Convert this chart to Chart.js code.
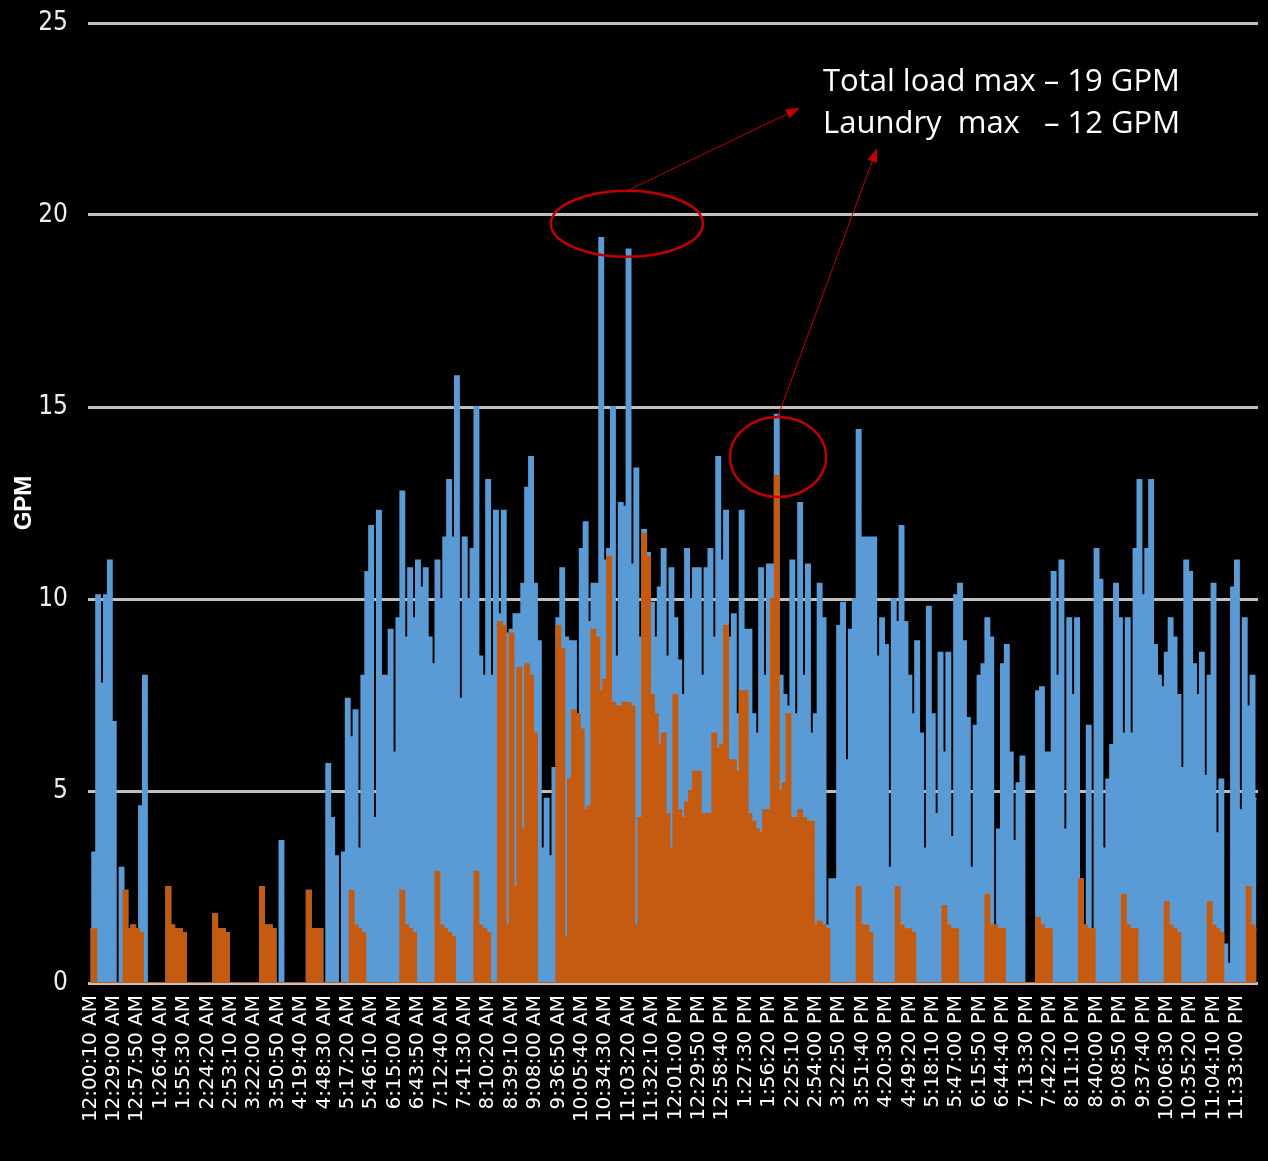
<!DOCTYPE html>
<html>
<head>
<meta charset="utf-8">
<script src="https://cdn.jsdelivr.net/npm/chart.js@4.4.1/dist/chart.umd.min.js"></script>
<style>
  html, body { margin: 0; padding: 0; background: #000; }
  #wrap { position: relative; width: 1268px; height: 1161px; }
</style>
</head>
<body>
<div id="wrap"><canvas id="gpmChart"></canvas></div>
<script>
// tick labels on the time axis (one every 28:50)
const tickLabels = [
    '12:00:10 AM', '12:29:00 AM', '12:57:50 AM', '1:26:40 AM', '1:55:30 AM',
    '2:24:20 AM', '2:53:10 AM', '3:22:00 AM', '3:50:50 AM', '4:19:40 AM',
    '4:48:30 AM', '5:17:20 AM', '5:46:10 AM', '6:15:00 AM', '6:43:50 AM',
    '7:12:40 AM', '7:41:30 AM', '8:10:20 AM', '8:39:10 AM', '9:08:00 AM',
    '9:36:50 AM', '10:05:40 AM', '10:34:30 AM', '11:03:20 AM', '11:32:10 AM',
    '12:01:00 PM', '12:29:50 PM', '12:58:40 PM', '1:27:30 PM', '1:56:20 PM',
    '2:25:10 PM', '2:54:00 PM', '3:22:50 PM', '3:51:40 PM', '4:20:30 PM',
    '4:49:20 PM', '5:18:10 PM', '5:47:00 PM', '6:15:50 PM', '6:44:40 PM',
    '7:13:30 PM', '7:42:20 PM', '8:11:10 PM', '8:40:00 PM', '9:08:50 PM',
    '9:37:40 PM', '10:06:30 PM', '10:35:20 PM', '11:04:10 PM', '11:33:00 PM'
];

// readings per tick interval
const samplesPerTick = 6;

// total load, GPM (6 readings per row = one tick interval)
const totalLoad = [
    1.4, 3.4, 10.1, 7.8, 10.1, 11.0,
    6.8, 0, 3.0, 2.4, 1.4, 1.5,
    1.4, 4.6, 8.0, 0, 0, 0,
    0, 0, 2.5, 1.5, 1.4, 1.4,
    1.3, 0, 0, 0, 0, 0,
    0, 0, 1.8, 1.4, 1.4, 1.3,
    0, 0, 0, 0, 0, 0,
    0, 0, 2.5, 1.5, 1.5, 1.4,
    0, 3.7, 0, 0, 0, 0,
    0, 0, 2.4, 1.4, 1.4, 1.4,
    0, 5.7, 4.3, 3.3, 0, 3.4,
    7.4, 6.4, 7.1, 3.5, 8.0, 10.7,
    11.9, 4.3, 12.3, 8.0, 8.0, 9.2,
    6.0, 9.5, 12.8, 9.0, 10.8, 9.5,
    11.0, 10.3, 10.8, 9.0, 8.3, 11.0,
    10.0, 11.6, 13.1, 11.6, 15.8, 7.4,
    11.6, 10.0, 11.3, 15.0, 8.5, 8.0,
    13.1, 8.0, 12.3, 9.6, 12.3, 9.1,
    9.2, 9.6, 9.6, 10.4, 12.9, 13.7,
    10.4, 8.9, 3.5, 4.8, 3.3, 5.6,
    9.5, 10.8, 9.0, 8.9, 8.9, 7.0,
    11.3, 12.0, 9.4, 10.4, 10.4, 19.4,
    11.0, 11.3, 15.0, 8.5, 12.5, 12.4,
    19.1, 10.9, 13.4, 9.0, 11.8, 11.2,
    9.9, 9.0, 10.3, 11.3, 8.5, 10.8,
    9.5, 8.4, 7.5, 11.3, 10.0, 10.8,
    10.8, 8.0, 10.8, 11.3, 9.0, 13.7,
    11.0, 12.3, 9.0, 9.6, 7.0, 12.3,
    9.2, 9.2, 7.0, 6.5, 10.8, 8.0,
    10.9, 10.9, 14.8, 8.0, 7.5, 7.2,
    11.0, 7.0, 12.5, 8.0, 10.9, 6.5,
    7.0, 10.4, 9.5, 1.5, 2.7, 2.7,
    9.3, 9.9, 5.8, 9.2, 10.0, 14.4,
    11.6, 11.6, 11.6, 11.6, 8.5, 9.5,
    8.8, 3.0, 10.0, 9.4, 11.9, 9.4,
    8.0, 7.0, 8.9, 6.5, 3.5, 9.8,
    7.0, 4.4, 8.6, 6.0, 8.6, 3.8,
    10.1, 10.4, 8.9, 6.9, 3.0, 6.7,
    8.0, 8.3, 9.5, 9.0, 1.5, 4.0,
    8.3, 8.8, 6.0, 3.7, 5.2, 5.9,
    0, 0, 0, 7.6, 7.7, 6.0,
    6.0, 10.7, 8.0, 11.0, 4.0, 9.5,
    7.5, 9.5, 2.7, 1.5, 6.7, 1.4,
    11.3, 10.5, 3.5, 5.3, 6.2, 10.4,
    9.5, 6.5, 9.5, 6.5, 11.3, 13.1,
    10.1, 11.3, 13.1, 8.8, 8.0, 7.7,
    8.6, 9.5, 9.0, 7.5, 5.6, 11.0,
    10.7, 8.3, 7.5, 8.6, 5.4, 8.0,
    10.4, 3.9, 5.3, 1.0, 0.5, 10.3,
    11.0, 4.5, 9.5, 7.2, 8.0, 4.8
];

// laundry load, GPM
const laundryLoad = [
    1.4, 1.4, 0, 0, 0, 0,
    0, 0, 0, 2.4, 1.4, 1.5,
    1.4, 1.3, 0, 0, 0, 0,
    0, 0, 2.5, 1.5, 1.4, 1.4,
    1.3, 0, 0, 0, 0, 0,
    0, 0, 1.8, 1.4, 1.4, 1.3,
    0, 0, 0, 0, 0, 0,
    0, 0, 2.5, 1.5, 1.5, 1.4,
    0, 0, 0, 0, 0, 0,
    0, 0, 2.4, 1.4, 1.4, 1.4,
    0, 0, 0, 0, 0, 0,
    0, 2.4, 1.5, 1.4, 1.3, 0,
    0, 0, 0, 0, 0, 0,
    0, 0, 2.4, 1.5, 1.4, 1.3,
    0, 0, 0, 0, 0, 2.9,
    1.5, 1.4, 1.3, 1.2, 0, 0,
    0, 0, 0, 2.9, 1.5, 1.4,
    1.3, 0, 0, 9.4, 9.3, 1.5,
    9.1, 2.5, 8.2, 4.0, 8.3, 8.0,
    6.5, 0, 0, 0, 0, 0,
    9.3, 8.7, 1.2, 5.3, 7.1, 7.0,
    6.6, 4.5, 4.6, 9.2, 9.0, 7.6,
    7.9, 11.1, 7.3, 7.2, 7.2, 7.3,
    7.3, 7.2, 1.5, 4.3, 11.7, 11.1,
    7.5, 7.0, 6.2, 6.5, 4.4, 3.5,
    7.5, 4.5, 4.3, 4.7, 5.0, 5.5,
    5.5, 4.4, 4.4, 4.4, 6.5, 6.1,
    6.2, 9.3, 5.8, 5.8, 5.5, 7.6,
    7.6, 4.4, 4.2, 4.0, 3.9, 4.5,
    4.5, 10.0, 13.2, 5.0, 5.2, 7.0,
    4.3, 4.3, 4.5, 4.3, 4.2, 4.2,
    1.5, 1.6, 1.5, 1.4, 0, 0,
    0, 0, 0, 0, 0, 2.5,
    1.5, 1.5, 1.3, 0, 0, 0,
    0, 0, 0, 2.5, 1.5, 1.4,
    1.4, 1.3, 0, 0, 0, 0,
    0, 0, 0, 2.0, 1.5, 1.4,
    1.4, 0, 0, 0, 0, 0,
    0, 0, 2.3, 1.5, 1.5, 1.4,
    1.4, 0, 0, 0, 0, 0,
    0, 0, 0, 1.7, 1.5, 1.4,
    1.4, 0, 0, 0, 0, 0,
    0, 0, 2.7, 1.5, 1.4, 1.4,
    0, 0, 0, 0, 0, 0,
    0, 2.3, 1.5, 1.4, 1.4, 0,
    0, 0, 0, 0, 0, 0,
    2.1, 1.5, 1.4, 1.3, 0, 0,
    0, 0, 0, 0, 0, 2.1,
    1.5, 1.4, 1.3, 0, 0, 0,
    0, 0, 0, 2.5, 1.5, 1.4
];

const calloutText = ['Total load max \u2013 19 GPM', 'Laundry  max   \u2013 12 GPM'];

function toPoints(values) {
    return values.map((v, k) => ({ x: k / samplesPerTick, y: v }));
}

// red ellipses, arrows and the note, placed in axis units
const calloutPlugin = {
    id: 'callouts',
    afterDatasetsDraw(chart) {
        const { ctx } = chart;
        const x = chart.scales.x, y = chart.scales.y;
        const px = v => x.getPixelForValue(v);
        const py = v => y.getPixelForValue(v);

        ctx.save();
        ctx.strokeStyle = '#c00000';
        ctx.fillStyle = '#c00000';

        ctx.lineWidth = 2.5;
        ctx.beginPath();
        ctx.ellipse(px(22.93), py(19.77), 76, 33, 0, 0, Math.PI * 2);
        ctx.stroke();
        ctx.beginPath();
        ctx.ellipse(px(29.39), py(13.7), 48, 40, 0, 0, Math.PI * 2);
        ctx.stroke();

        const arrow = (x0, y0, x1, y1) => {
            const ax = px(x0), ay = py(y0), bx = px(x1), by = py(y1);
            const ang = Math.atan2(by - ay, bx - ax);
            ctx.lineWidth = 1;
            ctx.beginPath();
            ctx.moveTo(ax, ay);
            ctx.lineTo(bx - Math.cos(ang) * 10, by - Math.sin(ang) * 10);
            ctx.stroke();
            ctx.beginPath();
            ctx.moveTo(bx, by);
            ctx.lineTo(bx - Math.cos(ang) * 14 + Math.sin(ang) * 5, by - Math.sin(ang) * 14 - Math.cos(ang) * 5);
            ctx.lineTo(bx - Math.cos(ang) * 14 - Math.sin(ang) * 5, by - Math.sin(ang) * 14 + Math.cos(ang) * 5);
            ctx.closePath();
            ctx.fill();
        };
        arrow(22.93, 20.63, 30.33, 22.79);
        arrow(29.39, 14.77, 33.62, 21.74);

        ctx.fillStyle = '#ffffff';
        ctx.font = '31px "Open Sans", "Noto Sans", sans-serif';
        ctx.textBaseline = 'middle';
        ctx.textAlign = 'left';
        ctx.fillText(calloutText[0], px(31.31), py(23.46));
        ctx.fillText(calloutText[1], px(31.31), py(22.37));
        ctx.restore();
    }
};

const ctx = document.getElementById('gpmChart').getContext('2d');
new Chart(ctx, {
    type: 'line',
    data: {
        datasets: [{
            label: 'Total load',
            data: toPoints(totalLoad),
            borderColor: '#5b9bd5',
            backgroundColor: '#5b9bd5',
            borderWidth: 2,
            fill: 'origin',
            stepped: 'middle',
            pointRadius: 0,
            order: 2
        }, {
            label: 'Laundry',
            data: toPoints(laundryLoad),
            borderColor: '#c55a11',
            backgroundColor: '#c55a11',
            borderWidth: 2,
            fill: 'origin',
            stepped: 'middle',
            pointRadius: 0,
            order: 1
        }]
    },
    options: {
        responsive: true,
        maintainAspectRatio: false,
        animation: false,
        layout: { padding: { top: 23, right: 10, bottom: 0, left: 0 } },
        plugins: {
            legend: { display: false },
            tooltip: { enabled: false }
        },
        scales: {
            x: {
                type: 'linear',
                min: -0.1,
                max: 49.9,
                afterBuildTicks: axis => {
                    axis.ticks = tickLabels.map((_, i) => ({ value: i }));
                },
                afterFit: axis => {
                    axis.height = 178;
                    axis.paddingLeft = 0;
                    axis.paddingRight = 0;
                },
                grid: { display: false, drawTicks: false },
                border: { display: false },
                ticks: {
                    autoSkip: false,
                    minRotation: 90,
                    maxRotation: 90,
                    padding: 12,
                    color: '#ffffff',
                    font: { family: 'DejaVu Sans', size: 20 },
                    callback: (value, index) => tickLabels[index]
                }
            },
            y: {
                min: 0,
                max: 25,
                afterFit: axis => {
                    axis.width = 88;
                    axis.paddingTop = 0;
                    axis.paddingBottom = 0;
                },
                grid: { color: '#bfbfbf', lineWidth: 3, drawTicks: false },
                border: { display: false },
                ticks: {
                    stepSize: 5,
                    padding: 20,
                    color: '#eeeeee',
                    font: { family: '"Liberation Sans Narrow", "DejaVu Sans Condensed", sans-serif', size: 26 }
                },
                title: {
                    display: true,
                    text: 'GPM',
                    color: '#ffffff',
                    padding: { top: 10, bottom: 0 },
                    font: { family: 'Liberation Sans', size: 24, weight: 'bold' }
                }
            }
        }
    },
    plugins: [calloutPlugin]
});
</script>
</body>
</html>
